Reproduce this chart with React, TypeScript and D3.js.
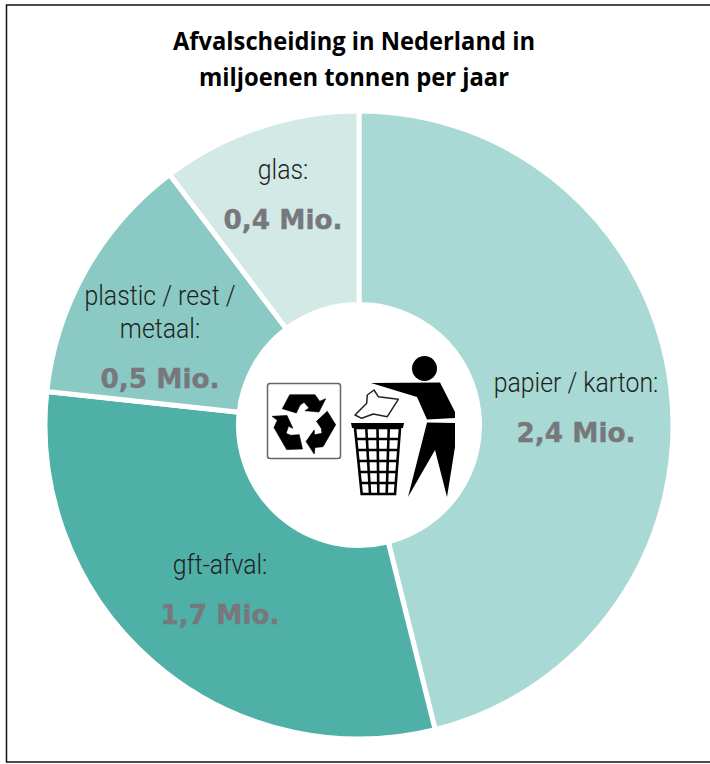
import * as d3 from "d3";

// Slice shares (they do not follow the printed labels)
const categories = ["papier / karton:", "gft-afval:", "plastic / rest /|metaal:", "glas:"];
const shares = [46.1, 30.6, 13.0, 10.3];
const amounts = ["2,4 Mio.", "1,7 Mio.", "0,5 Mio.", "0,4 Mio."];
const colors = ["#a8d9d4", "#4fb0a7", "#8bcac4", "#d2e9e6"];
const titleLines = ["Afvalscheiding in Nederland in", "miljoenen tonnen per jaar"];
const titleWidths = [362, 310];

const WIDTH = 710;
const HEIGHT = 764;
const cx = 359;
const cy = 425;
const R = 314;
const r = 120.5;

// label anchors, relative to the pie centre
const labelAt = [
  { x: 217, y: -33 },
  { x: -139, y: 149 },
  { x: -199, y: -120 },
  { x: -76, y: -246 },
];

function RecycleArrow({ angle }: { angle: number }) {
  return (
    <path
      transform={`rotate(${angle})`}
      d="M-21.7,-14.3 L-14.3,-28.3 L11,-28.3 L15.7,-21.7 L21.7,-24.3 L15,-11 L1,-12.3 L5,-15 L0,-20.7 L-4,-17.7 L-7.7,-10 Z"
      fill="#000"
      stroke="#000"
      strokeWidth={0.6}
      strokeLinejoin="round"
    />
  );
}

function TrashMan() {
  const rows = d3.range(1, 6);
  const cols = d3.range(1, 4);
  const binLeft = (t: number) => 355 + (361.7 - 355) * t;
  const binRight = (t: number) => 400 + (395 - 400) * t;
  return (
    <g>
      <circle cx={424.5} cy={368.5} r={12.5} fill="#000" />
      <path d="M371,383 L440,382.5 L455,412 L455,418 L427,419.5 L417,397 Z" fill="#000" />
      <path d="M427,422.5 L455,423 L455,447 L447,497 L435,450 L408,497 Z" fill="#000" />
      {/* paper */}
      <path
        d="M355,415 L366.7,403.3 L367.3,395 L374,390 L378.3,396.7 L398.3,399.3 L387.3,416.7 L373.3,414 L361.7,418.3 Z"
        fill="#fff"
        stroke="#222"
        strokeWidth={1.5}
        strokeLinejoin="round"
      />
      {/* bin */}
      <path d="M351,423 L404,423 L403,428 L352,428 Z" fill="#000" />
      <path d="M355,428 L400,428 L395,494 L361.7,494 Z" fill="none" stroke="#000" strokeWidth={2.6} />
      {rows.map((i) => {
        const t = i / 6;
        return (
          <line
            key={i}
            x1={binLeft(t)}
            x2={binRight(t)}
            y1={428 + 66 * t}
            y2={428 + 66 * t}
            stroke="#000"
            strokeWidth={2.6}
          />
        );
      })}
      {cols.map((i) => {
        const t = i / 4;
        return (
          <line
            key={i}
            x1={355 + 45 * t}
            x2={361.7 + 33.3 * t}
            y1={428}
            y2={494}
            stroke="#000"
            strokeWidth={2.6}
          />
        );
      })}
    </g>
  );
}

export default function App() {
  const pie = d3.pie<number>().sort(null).value((d) => d);
  const arc = d3.arc<d3.PieArcDatum<number>>().innerRadius(r).outerRadius(R);
  const slices = pie(shares);

  return (
    <svg
      width={WIDTH}
      height={HEIGHT}
      style={{ position: "absolute", left: 0, top: 0, background: "#fff" }}
    >
      <rect x={6.5} y={5} width={WIDTH + 20} height={757} fill="#fff" stroke="#111" strokeWidth={1.5} />

      {titleLines.map((t, i) => (
        <text
          key={t}
          x={354}
          y={50 + i * 36}
          textAnchor="middle"
          textLength={titleWidths[i]}
          lengthAdjust="spacingAndGlyphs"
          fontFamily="'Open Sans', sans-serif"
          fontWeight={700}
          fontSize={25}
          fill="#000"
        >
          {t}
        </text>
      ))}

      <g transform={`translate(${cx},${cy})`}>
        {slices.map((s, i) => (
          <path key={i} d={arc(s) ?? ""} fill={colors[i]} stroke="#fff" strokeWidth={5} />
        ))}
        <circle r={r} fill="#fff" />
        {categories.map((c, i) => {
          const lines = c.split("|");
          const at = labelAt[i];
          return (
            <g key={c} transform={`translate(${at.x},${at.y})`} textAnchor="middle">
              {lines.map((l, j) => (
                <text
                  key={l}
                  transform={`translate(0,${j * 33}) scale(0.92,1)`}
                  fontFamily="Roboto, sans-serif"
                  fontWeight={300}
                  fontSize={27}
                  fill="#231f20"
                >
                  {l}
                </text>
              ))}
              <text
                y={(lines.length - 1) * 33 + 50}
                textLength={119}
                lengthAdjust="spacingAndGlyphs"
                fontFamily="'DejaVu Sans', sans-serif"
                fontWeight={700}
                fontSize={27}
                fill="#77787b"
                stroke="#77787b"
                strokeWidth={0.4}
              >
                {amounts[i]}
              </text>
            </g>
          );
        })}
      </g>

      {/* recycle sign */}
      <rect x={267.5} y={383.5} width={73} height={75} rx={2.5} fill="#fff" stroke="#666" strokeWidth={1.5} />
      <g transform="translate(304,423)">
        <RecycleArrow angle={0} />
        <RecycleArrow angle={120} />
        <RecycleArrow angle={240} />
      </g>
      <TrashMan />
    </svg>
  );
}
